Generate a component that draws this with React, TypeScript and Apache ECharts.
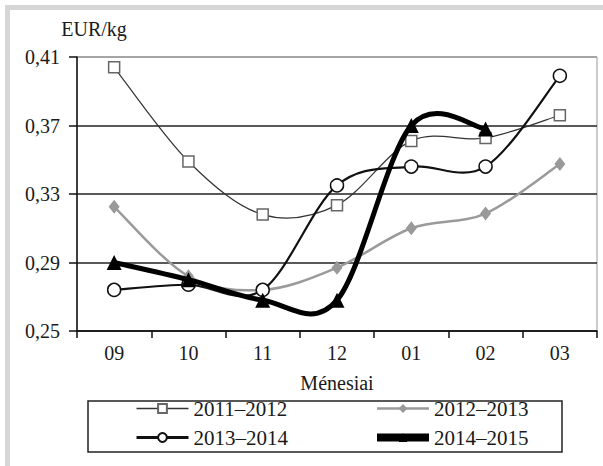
import React, { useEffect, useRef } from "react";
import * as echarts from "echarts";

const months = ["09", "10", "11", "12", "01", "02", "03"];
const seriesNames = ["2011–2012", "2012–2013", "2013–2014", "2014–2015"];
const s2011 = [0.404, 0.349, 0.318, 0.3235, 0.361, 0.3627, 0.376];
const s2012 = [0.3225, 0.282, 0.274, 0.287, 0.31, 0.3186, 0.3475];
const s2013 = [0.274, 0.277, 0.274, 0.335, 0.346, 0.346, 0.399];
const s2014 = [0.29, 0.28, 0.268, 0.268, 0.37, 0.368, null];
const yMin = 0.25;
const yMax = 0.41;
const yStep = 0.04;

const FONT = "'Liberation Serif', 'DejaVu Serif', serif";

type Val = number | null;

// Excel-like (Catmull-Rom) smoothed curve, drawn segment by segment via the axis scales
function curveRenderer(vals: Val[], color: string, width: number) {
  return (params: any, api: any) => {
    const i = params.dataIndex;
    const n = vals.length;
    if (i >= n - 1 || vals[i] == null || vals[i + 1] == null) return null;
    const pt = (k: number) => api.coord([k, vals[k]]);
    const p1 = pt(i);
    const p2 = pt(i + 1);
    const p0 = i > 0 && vals[i - 1] != null ? pt(i - 1) : p1;
    const p3 = i + 2 < n && vals[i + 2] != null ? pt(i + 2) : p2;
    const t = 1 / 6;
    return {
      type: "bezierCurve",
      shape: {
        x1: p1[0],
        y1: p1[1],
        x2: p2[0],
        y2: p2[1],
        cpx1: p1[0] + (p2[0] - p0[0]) * t,
        cpy1: p1[1] + (p2[1] - p0[1]) * t,
        cpx2: p2[0] - (p3[0] - p1[0]) * t,
        cpy2: p2[1] - (p3[1] - p1[1]) * t,
      },
      style: { stroke: color, lineWidth: width, fill: "none", lineCap: "round" },
    };
  };
}

export default function App() {
  const ref = useRef<HTMLDivElement>(null);
  useEffect(() => {
    if (!ref.current) return;
    const chart = echarts.init(ref.current, null, { renderer: "svg" });

    const defs = [
      {
        name: seriesNames[0],
        vals: s2011,
        color: "#333",
        width: 1.2,
        symbol: "rect",
        symbolSize: 11,
        itemStyle: { color: "#fff", borderColor: "#666", borderWidth: 1.5 },
        legendWidth: 1.5,
      },
      {
        name: seriesNames[1],
        vals: s2012,
        color: "#9a9a9a",
        width: 2.5,
        symbol: "diamond",
        symbolSize: [11, 14],
        itemStyle: { color: "#999" },
        legendWidth: 2.5,
      },
      {
        name: seriesNames[2],
        vals: s2013,
        color: "#111",
        width: 2.2,
        symbol: "circle",
        symbolSize: 13,
        itemStyle: { color: "#fff", borderColor: "#111", borderWidth: 1.5 },
        legendWidth: 3,
      },
      {
        name: seriesNames[3],
        vals: s2014,
        color: "#000",
        width: 5,
        symbol: "triangle",
        symbolSize: 15,
        itemStyle: { color: "#000" },
        legendWidth: 8,
      },
    ];

    const series: any[] = [];
    defs.forEach((d, k) => {
      series.push({
        type: "custom",
        renderItem: curveRenderer(d.vals, d.color, d.width),
        data: d.vals.map((v, i) => [i, v]),
        encode: { x: 0, y: 1 },
        z: 2 + k * 2,
        silent: true,
      });
      series.push({
        name: d.name,
        type: "line",
        data: d.vals,
        symbol: d.symbol,
        symbolSize: d.symbolSize,
        showAllSymbol: true,
        lineStyle: { color: d.color, width: d.width, opacity: 0 },
        itemStyle: d.itemStyle,
        z: 3 + k * 2,
      });
    });

    const legendItem = (k: number) => ({
      name: defs[k].name,
      lineStyle: { color: defs[k].color, width: defs[k].legendWidth, opacity: 1 },
    });

    const legendBase = {
      orient: "vertical",
      top: 398,
      padding: 0,
      itemWidth: 52,
      itemHeight: 11,
      itemGap: 8,
      textStyle: { fontFamily: FONT, fontSize: 21, color: "#1a1a1a" },
    };

    chart.setOption({
      animation: false,
      backgroundColor: "#fff",
      textStyle: { fontFamily: FONT, color: "#1a1a1a" },
      grid: {
        left: 77,
        right: 6,
        top: 57,
        bottom: 135,
        containLabel: false,
        show: true,
        borderColor: "#999",
        borderWidth: 1,
      },
      xAxis: {
        type: "category",
        data: months,
        boundaryGap: true,
        name: "Ménesiai",
        nameLocation: "middle",
        nameGap: 42,
        nameTextStyle: { fontFamily: FONT, fontSize: 20, color: "#1a1a1a" },
        axisLine: { lineStyle: { color: "#111", width: 1.5 } },
        axisTick: { show: true, length: 7, alignWithLabel: false, lineStyle: { color: "#111", width: 1.5 } },
        axisLabel: { fontFamily: FONT, fontSize: 20, color: "#1a1a1a", margin: 12 },
        splitLine: { show: false },
      },
      yAxis: {
        type: "value",
        min: yMin,
        max: yMax,
        interval: yStep,
        name: "EUR/kg",
        nameLocation: "end",
        nameGap: 18,
        nameTextStyle: { fontFamily: FONT, fontSize: 20, color: "#1a1a1a", align: "center", padding: [0, 0, 0, 34] },
        axisLine: { show: true, lineStyle: { color: "#111", width: 1.5 } },
        axisTick: { show: true, length: 8, inside: false, lineStyle: { color: "#111", width: 1.5 } },
        axisLabel: {
          fontFamily: FONT,
          fontSize: 20,
          color: "#1a1a1a",
          margin: 17,
          formatter: (v: number) => v.toFixed(2).replace(".", ","),
        },
        splitLine: {
          show: true,
          lineStyle: { color: ["#222", "#222", "#222", "#222", "#999"], width: 1.5 },
        },
      },
      legend: [
        { ...legendBase, left: 135, data: [legendItem(0), legendItem(2)] },
        { ...legendBase, left: 373, data: [legendItem(1), legendItem(3)] },
      ],
      graphic: [
        { type: "rect", shape: { x: 5, y: 5, width: 598, height: 5 }, style: { fill: "#d6d6d6" }, silent: true },
        { type: "rect", shape: { x: 5, y: 5, width: 5, height: 461 }, style: { fill: "#d6d6d6" }, silent: true },
        {
          type: "rect",
          shape: { x: 88, y: 401, width: 474, height: 51 },
          style: { fill: "none", stroke: "#222", lineWidth: 1.5 },
          silent: true,
        },
      ],
      series,
    });
    return () => chart.dispose();
  }, []);
  return (
    <div
      ref={ref}
      style={{ position: "fixed", left: 0, top: 0, width: 603, height: 466, background: "#fff" }}
    />
  );
}
